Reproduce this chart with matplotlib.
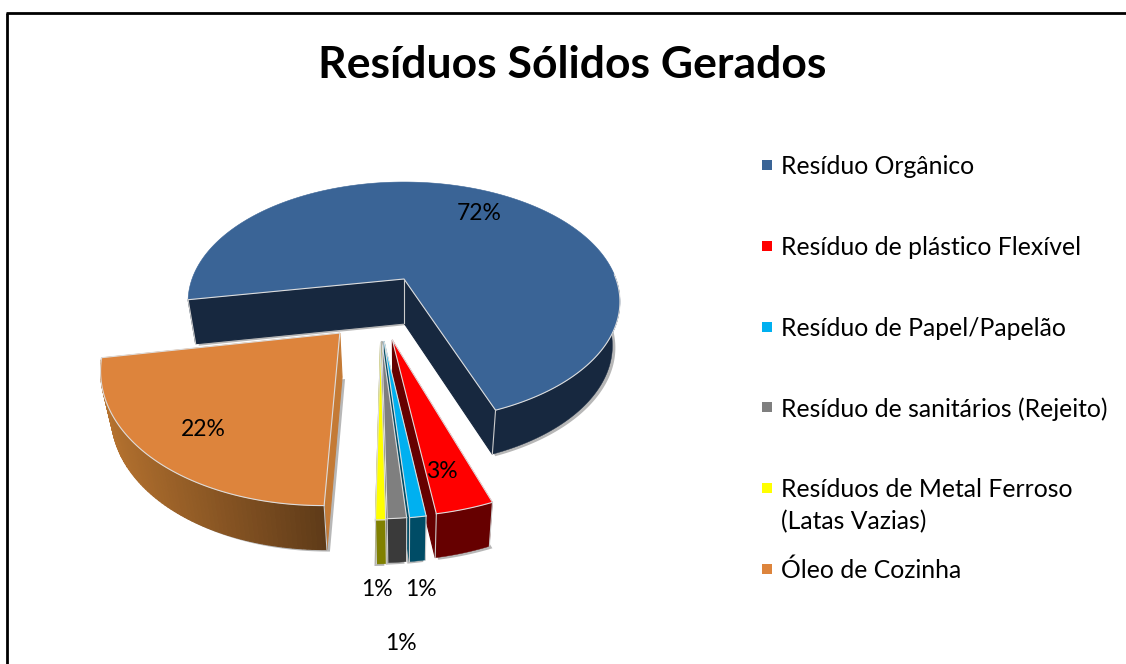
import math
import numpy as np
import matplotlib
matplotlib.use('Agg')
import matplotlib.pyplot as plt
from matplotlib.colors import to_rgb

plt.rcParams['font.family'] = ['Lato', 'DejaVu Sans']

titulo = 'Resíduos Sólidos Gerados'
categorias = ['Resíduo Orgânico', 'Resíduo de plástico Flexível', 'Resíduo de Papel/Papelão',
              'Resíduo de sanitários (Rejeito)', 'Resíduos de Metal Ferroso\n(Latas Vazias)', 'Óleo de Cozinha']
valores = [72, 3.22, 0.9, 1.05, 0.55, 22.28]  # percentuais

cores_topo = ['#3A6496', '#FF0000', '#00B0F0', '#7F7F7F', '#FFFF00', '#DD843C']
cores_lado = ['#17283F', '#660000', '#004C66', '#3A3A3A', '#808000', '#C47A35']

# parametros da "camera" e da explosao de cada fatia
CX, CY = 404, 279
RX, RY = 212, 115.4
K = 0.19
ALTURA = 44
ENCOLHE = 0.965
INICIO = 190  # graus, sentido horario
explosao = [(0, 0), (-0.05, 0.48), (-0.085, 0.49), (-0.095, 0.49), (-0.10, 0.495), (-0.278, 0.43)]
pos_rotulos = [(479, 214), (442, 472), (421, 589), (401, 643), (377, 589), (203, 429)]
pos_legenda = [165, 246, 327, 407, 488, 569]


def projeta(u, v):
    w = 1 - K * v
    return CX + RX * u / w, CY + RY * v / w


def base(p):
    return CX + (p[0] - CX) * ENCOLHE, p[1] + ALTURA


def parede(a, b, cor, ax, zo):
    pts = [a, b, base(b), base(a)]
    ax.fill([p[0] for p in pts], [p[1] for p in pts], color=cor, lw=0.8, zorder=zo)


fig = plt.figure(figsize=(11.26, 6.64), dpi=100)
ax = fig.add_axes([0, 0, 1, 1])
ax.set_xlim(0, 1126)
ax.set_ylim(664, 0)
ax.axis('off')

z = 2
ang = INICIO
for i, val in enumerate(valores):
    var = val * 3.6
    angs = np.radians(np.linspace(ang, ang - var, max(4, int(var))))
    eu, ev = explosao[i]
    tip = projeta(eu, ev)
    arco = [projeta(eu + math.cos(t), ev - math.sin(t)) for t in angs]
    # parte da borda virada para a frente (so o ultimo trecho continuo)
    frente = []
    for p, t in zip(arco, angs):
        if math.sin(t) <= 0.05:
            frente.append(p)
        else:
            frente = []

    # sombra
    contorno = [base(p) for p in arco] + [base(tip)]
    dx = 3 if i in (0, 1, 5) else -2
    ax.fill([p[0] + dx for p in contorno], [p[1] + 2 for p in contorno], color='#999999', alpha=0.7, lw=0, zorder=z)
    z += 1

    # paredes radiais, so as que ficam viradas para o observador
    if i in (0, 5):
        parede(tip, arco[0], cores_lado[i], ax, z)
    if i != 5:
        parede(tip, arco[-1], cores_lado[i], ax, z)
    z += 1
    # parede externa
    if i == 5:  # oleo tem degrade
        c0, c1 = np.array(to_rgb('#B5722F')), np.array(to_rgb('#5E3A18'))
        for j in range(len(frente) - 1):
            f = np.clip((frente[j][0] - 102) / (328 - 102), 0, 1)
            parede(frente[j], frente[j + 1], tuple(c0 + (c1 - c0) * f), ax, z)
    elif len(frente) > 1:
        pts = frente + [base(p) for p in frente[::-1]]
        ax.fill([p[0] for p in pts], [p[1] for p in pts], color=cores_lado[i], lw=0.3, zorder=z)
    z += 1
    # topo
    topo = [tip] + arco
    ax.fill([p[0] for p in topo], [p[1] for p in topo], facecolor=cores_topo[i], edgecolor=cores_topo[i], lw=0.4, zorder=z)
    z += 1
    # arestas claras
    ax.plot([arco[0][0], tip[0], arco[-1][0]], [arco[0][1], tip[1], arco[-1][1]], color='#DDDDDD', lw=0.8, zorder=z)
    ax.plot([p[0] for p in frente], [p[1] for p in frente], color='#DDDDDD', lw=0.8, zorder=z)
    for p in [tip, arco[0], arco[-1]]:
        if (p is tip and i != 0) or (i == 5 and p is arco[-1]):
            continue
        q = base(p)
        ax.plot([p[0], q[0]], [p[1], q[1]], color='#CCCCCC', lw=0.8, zorder=z)
    z += 1
    ang -= var

# rotulos de percentual
for val, pos in zip(valores, pos_rotulos):
    ax.text(pos[0], pos[1], f'{round(val)}%', fontsize=16.5, ha='center', va='center', color='black', zorder=100)

# legenda feita a mao
for nome, cor, y in zip(categorias, cores_topo, pos_legenda):
    ax.scatter([766.5], [y], marker='s', s=62, color=cor, linewidths=0, zorder=100)
    ax.text(781, y - 10, nome, fontsize=17.8, ha='left', va='top', color='black', linespacing=1.45, zorder=100)

ax.text(572, 65, titulo, fontsize=32, fontweight='bold', ha='center', va='center', color='black')

# moldura: so topo e esquerda aparecem
ax.plot([7, 7], [664, 13], color='black', lw=2, zorder=200, solid_capstyle='butt')
ax.plot([6, 1126], [13, 13], color='black', lw=2, zorder=200, solid_capstyle='butt')

fig.savefig('out.png', dpi=100)
